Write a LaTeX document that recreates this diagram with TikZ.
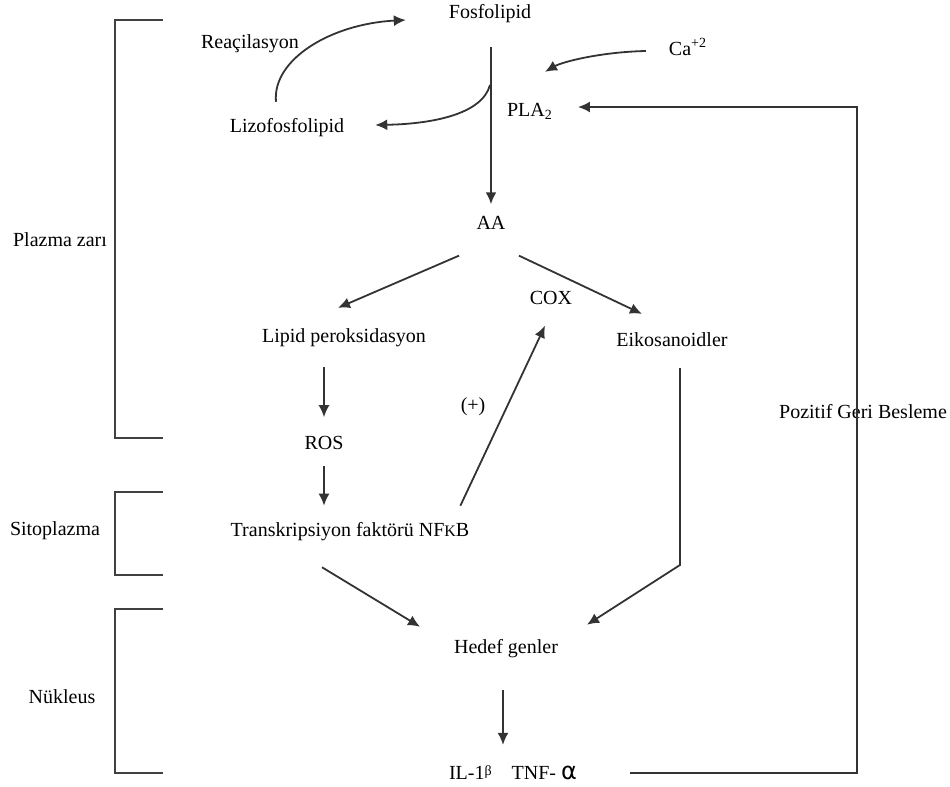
\documentclass[tikz,border=0pt]{standalone}
\usepackage{fontspec}
\setmainfont{Liberation Serif}
\newfontfamily\grk{DejaVu Sans}
\usetikzlibrary{arrows.meta,calc}
\begin{document}
\begin{tikzpicture} [x=0.5pt,y=-0.5pt,font=\fontsize{10}{12}\selectfont,
		arr/.style={-{Latex[length=6pt,width=5.5pt]},line width=0.9pt,draw=black!80},
		brk/.style={line width=1.3pt,draw=black!75}]
		\useasboundingbox (0,0) rectangle (950,787);
		% compartment brackets
		\draw [brk] (163,20) -- (115,20) -- (115,438) -- (163,438);
		\draw [brk] (163,492) -- (115,492) -- (115,575) -- (163,575);
		\draw [brk] (163,609) -- (115,609) -- (115,773) -- (163,773);
		\node (zar) at (60,240) {Plazma zar\i};
		\node (sito) at (55,531) {Sitoplazma};
		\node (nuk) at (62,697) {N\"ukleus};
		% nodes
		\node (fosfo) at (490,14) {Fosfolipid};
		\node (reac) at (250,44) {Rea\c{c}ilasyon};
		\node (lizo) at (287,128) {Lizofosfolipid};
		\node (ca) at (688,47) {Ca\textsuperscript{+2}};
		\node (pla) at (530,111) {PLA\textsubscript{2}};
		\node (AA) at (491,223) {AA};
		\node (lipid) at (344,338) {Lipid peroksidasyon};
		\node (cox) at (551,298) {COX};
		\node (eik) at (672,340) {Eikosanoidler};
		\node (ros) at (324,443) {ROS};
		\node (trans) at (350,532) {Transkripsiyon fakt\"or\"u NF{\footnotesize K}B};
		\node (hedef) at (506,649) {Hedef genler};
		\node (il) at (513,773) {IL-1\raisebox{2pt}{\scriptsize β}\hspace{10pt}TNF- {\grk\large α}};
		\node (geri) at (863,412) {Pozitif Geri Besleme};
		% membrane part
		\coordinate (branch) at (490,85);
		\draw [arr,line width=1.2pt] ($(AA.north |- fosfo.south)+(0,17)$) -- ($(AA.north)+(0,-5)$);
		\draw [arr] (branch) .. controls (482,115) and (430,124) .. ($(lizo.east)+(24,-3)$);
		\draw [arr] ($(lizo.north)+(-11,-10)$) .. controls (272,60) and (330,24) .. ($(fosfo.west)+(-36,6)$);
		\draw [arr] ($(ca.west)+(-16,4)$) .. controls (600,52) and (562,62) .. ($(pla.north)+(15,-24)$);
		% feedback loop
		\coordinate (fb) at (857,773);
		\draw [arr] ($(il.east)+(46,0)$) -- (fb) |- ($(pla.east)+(18,-4)$);
		% cascade
		\draw [arr] ($(AA.south)+(-32,19)$) -- ($(lipid.north)+(-6,-14)$);
		\draw [arr] ($(AA.south)+(28,19)$) -- ($(eik.north)+(-30,-12)$);
		\draw [arr] ($(ros.north |- lipid.south)+(0,13)$) -- ($(ros.north)+(0,-12)$);
		\draw [arr] ($(ros.south)+(0,9)$) -- ($(ros.south |- trans.north)+(0,-10)$);
		\draw [arr] ($(trans.north east)+(-16,-10)$) -- node [left=7pt,pos=0.55] {(+)} ($(cox.south)+(-6,14)$);
		\draw [arr] ($(trans.south)+(-28,19)$) -- ($(hedef.north west)+(-27,-6)$);
		\draw [arr] ($(eik.south)+(8,14)$) -- (680,565) -- ($(hedef.north east)+(22,-8)$);
		\draw [arr] ($(hedef.south)+(-3,25)$) -- ($(il.north)+(-10,-14)$);
	\end{tikzpicture}
\end{document}
